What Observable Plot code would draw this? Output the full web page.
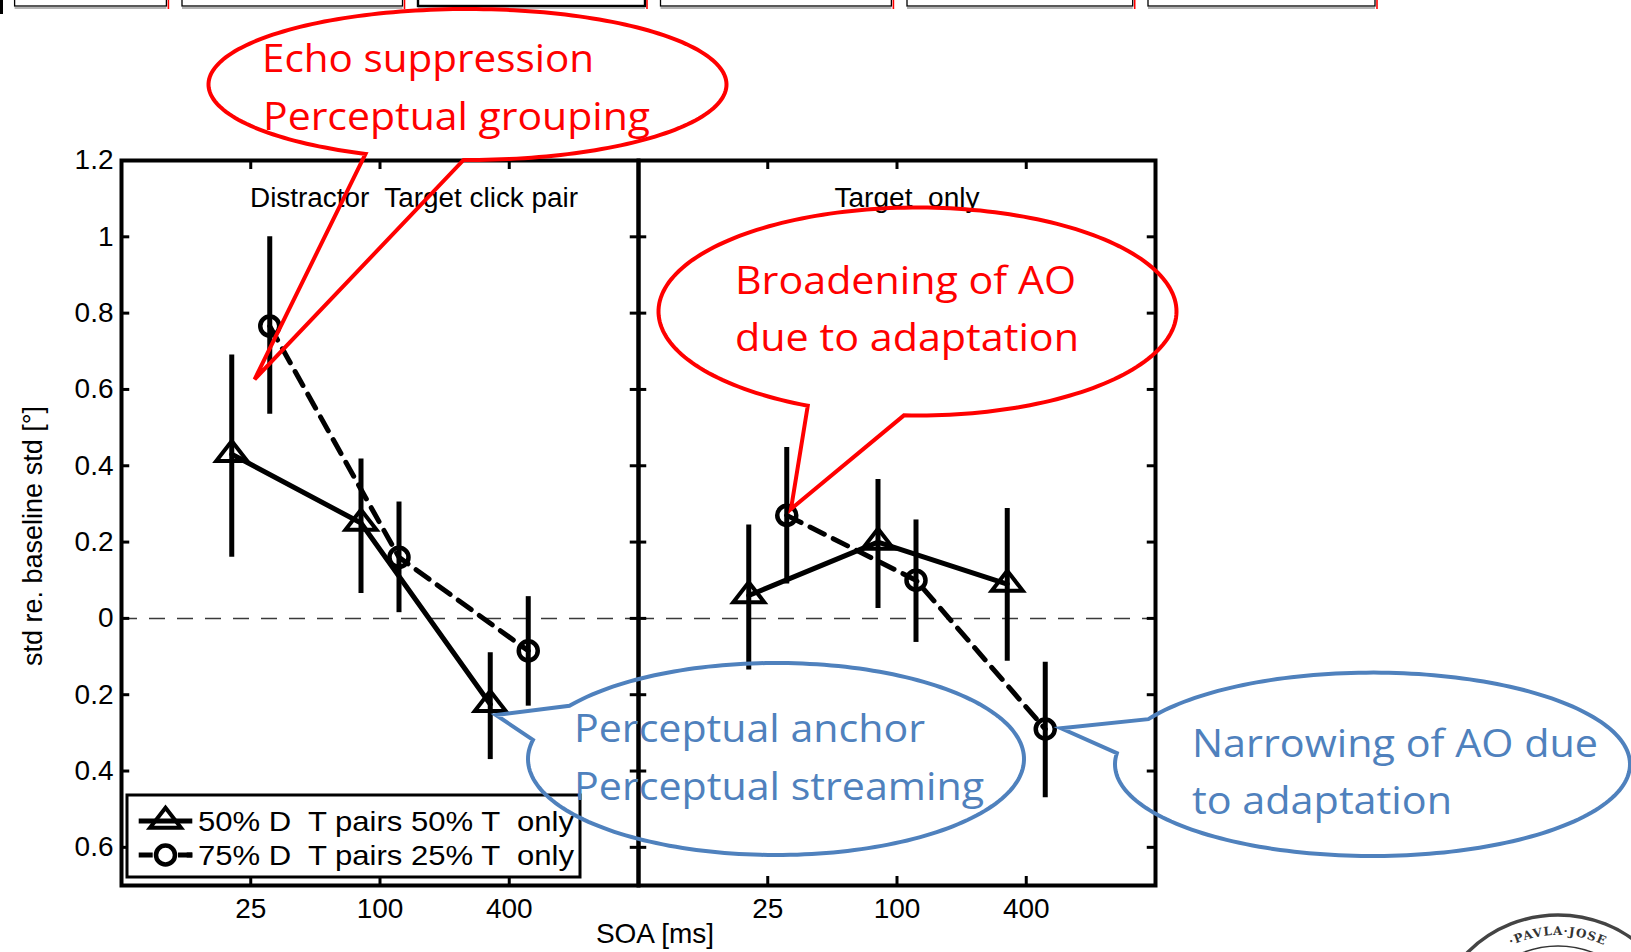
<!DOCTYPE html>
<html><head><meta charset="utf-8">
<script src="https://cdn.jsdelivr.net/npm/d3@7"></script>
<script src="https://cdn.jsdelivr.net/npm/@observablehq/plot@0.6"></script>
<style>
html,body{margin:0;padding:0;background:#fff;}
#wrap{position:relative;width:1631px;height:952px;overflow:hidden;background:#fff;}
#wrap > svg{position:absolute;left:0;top:0;}
text{white-space:pre;}
</style></head><body><div id="wrap"></div>
<script>
// ---------------- data ----------------
const soa = [25, 100, 400];
const xTickLabels = ["25", "100", "400"];
const panelNames = ["Distractor  Target click pair", "Target  only"];
const seriesNames = ["50% D  T pairs 50% T  only", "75% D  T pairs 25% T  only"];
// 50% / 50% condition (triangles, solid line)
const triPairMean = [0.43, 0.25, -0.225];
const triPairLo   = [0.16, 0.065, -0.37];
const triPairHi   = [0.69, 0.418, -0.09];
const triOnlyMean = [0.06, 0.20, 0.09];
const triOnlyLo   = [-0.135, 0.026, -0.112];
const triOnlyHi   = [0.245, 0.364, 0.288];
// 75% / 25% condition (circles, dashed line)
const circPairMean = [0.766, 0.16, -0.085];
const circPairLo   = [0.535, 0.015, -0.23];
const circPairHi   = [1.0, 0.305, 0.057];
const circOnlyMean = [0.27, 0.10, -0.29];
const circOnlyLo   = [0.09, -0.063, -0.47];
const circOnlyHi   = [0.448, 0.258, -0.115];
const yTickValues = [-0.6, -0.4, -0.2, 0, 0.2, 0.4, 0.6, 0.8, 1, 1.2];
const yTickLabels = ["0.6", "0.4", "0.2", "0", "0.2", "0.4", "0.6", "0.8", "1", "1.2"];
const yLabel = "std re. baseline std [°]";
const xLabel = "SOA [ms]";
const calloutTexts = [
  ["Echo suppression", "Perceptual grouping"],
  ["Broadening of AO", "due to adaptation"],
  ["Perceptual anchor", "Perceptual streaming"],
  ["Narrowing of AO due", "to adaptation"]
];
const sealText = "·PAVLA·JOSE";

// ---------------- build tables ----------------
function rows(panel, mean, lo, hi) {
  return soa.map((s, i) => ({panel, soa: s, mean: mean[i], lo: lo[i], hi: hi[i]}));
}
const triRows = [...rows(panelNames[0], triPairMean, triPairLo, triPairHi),
                 ...rows(panelNames[1], triOnlyMean, triOnlyLo, triOnlyHi)];
const circRows = [...rows(panelNames[0], circPairMean, circPairLo, circPairHi),
                  ...rows(panelNames[1], circOnlyMean, circOnlyLo, circOnlyHi)];

// ---------------- layout ----------------
const W = 1631, H = 952, mL = 120, mR = 475.5, mT = 160, mB = 67;
const bw = (W - mL - mR) / 2, ih = H - mT - mB;
const off = 19; // horizontal offset of the two conditions
const triSymbol = {draw(ctx, size) {
  const s = Math.sqrt(size / Math.PI);
  ctx.moveTo(0, -1.33 * s); ctx.lineTo(1.55 * s, 0.67 * s); ctx.lineTo(-1.55 * s, 0.67 * s); ctx.closePath();
}};
const tickStyle = {stroke: "black", strokeWidth: 3};

const chart = Plot.plot({
  width: W, height: H,
  marginLeft: mL, marginRight: mR, marginTop: mT, marginBottom: mB,
  style: {fontFamily: "'Liberation Sans', Arial, sans-serif", fontSize: "28px", background: "transparent", overflow: "visible", color: "black"},
  fx: {domain: panelNames, padding: 0, axis: null},
  x: {type: "log", domain: [6.25, 1600], axis: null},
  y: {domain: [-0.7, 1.2]},
  marks: [
    Plot.ruleY([0], {stroke: "#3a3a3a", strokeWidth: 1.5, strokeDasharray: "16,12"}),
    Plot.tickY(yTickValues, {y: d => d, ...tickStyle, insetRight: bw - 9}),
    Plot.tickY(yTickValues, {y: d => d, ...tickStyle, insetLeft: bw - 9}),
    Plot.tickX(soa, {x: d => d, ...tickStyle, insetTop: ih - 9}),
    Plot.tickX(soa, {x: d => d, ...tickStyle, insetBottom: ih - 9}),
    Plot.ruleX(triRows, {fx: "panel", x: "soa", y1: "lo", y2: "hi", dx: -off, stroke: "black", strokeWidth: 5}),
    Plot.ruleX(circRows, {fx: "panel", x: "soa", y1: "lo", y2: "hi", dx: off, stroke: "black", strokeWidth: 5}),
    Plot.line(triRows, {fx: "panel", x: "soa", y: "mean", dx: -off, stroke: "black", strokeWidth: 5}),
    Plot.line(circRows, {fx: "panel", x: "soa", y: "mean", dx: off, stroke: "black", strokeWidth: 5, strokeDasharray: "16,10"}),
    Plot.dot(triRows, {fx: "panel", x: "soa", y: "mean", dx: -off, symbol: triSymbol, r: 10, stroke: "black", strokeWidth: 4, fill: "none"}),
    Plot.dot(circRows, {fx: "panel", x: "soa", y: "mean", dx: off, symbol: "circle", r: 9.5, stroke: "black", strokeWidth: 4.5, fill: "none"}),
    Plot.frame({stroke: "black", strokeWidth: 4}),
    Plot.axisY(yTickValues, {anchor: "left", facetAnchor: "left", tickSize: 0, tickPadding: 8, label: null,
      tickFormat: d => yTickLabels[yTickValues.indexOf(d)], fontSize: 28}),
    Plot.text(soa, {x: d => d, text: d => xTickLabels[soa.indexOf(d)], frameAnchor: "bottom", lineAnchor: "top", dy: 13, fontSize: 28}),
    Plot.text([panelNames[0]], {fx: d => d, text: d => d, frameAnchor: "top", dx: 34, dy: 27, lineAnchor: "top", fontSize: 27}),
    Plot.text([panelNames[1]], {fx: d => d, text: d => d, frameAnchor: "top", dx: 10, dy: 27, lineAnchor: "top", fontSize: 27})
  ]
});
document.getElementById("wrap").appendChild(chart);
// preserve double spaces and match widths of the panel titles
const titleWidths = {[panelNames[0]]: 328, [panelNames[1]]: 145};
d3.select(chart).selectAll("text").each(function() {
  const t = this.textContent;
  if (titleWidths[t]) {
    this.setAttribute("xml:space", "preserve");
    this.setAttribute("textLength", titleWidths[t]);
    this.setAttribute("lengthAdjust", "spacingAndGlyphs");
  }
});

// ---------------- overlay: labels, legend, callouts, decorations ----------------
const ov = d3.select("#wrap").append("svg")
  .attr("width", W).attr("height", H)
  .style("pointer-events", "none")
  .attr("font-family", "'Liberation Sans', Arial, sans-serif");

// slide tab strip at the top
const tabs = [[14.6, 166.4], [182, 402.5], [418, 645], [660.5, 891.4], [907, 1132.7], [1148, 1375]];
ov.append("rect").attr("x", 0).attr("y", 0).attr("width", 3).attr("height", 14).attr("fill", "#000");
tabs.forEach(([a, b], i) => {
  ov.append("rect").attr("x", a).attr("y", -3).attr("width", b - a).attr("height", 9)
    .attr("fill", "none").attr("stroke", "#000").attr("stroke-width", i === 2 ? 2.4 : 1.3);
  ov.append("line").attr("x1", a).attr("x2", b).attr("y1", 8).attr("y2", 8).attr("stroke", "#9a9a9a").attr("stroke-width", 1.5);
  ov.append("line").attr("x1", b + 2).attr("x2", b + 2).attr("y1", 0).attr("y2", 9).attr("stroke", "#ff0000").attr("stroke-width", 1.6);
});

// axis titles
ov.append("text").attr("transform", "translate(42,536) rotate(-90)").attr("text-anchor", "middle")
  .attr("font-size", 27).text(yLabel);
ov.append("text").attr("x", 655).attr("y", 943).attr("text-anchor", "middle").attr("font-size", 28).text(xLabel);

// legend
const lg = ov.append("g");
lg.append("rect").attr("x", 127).attr("y", 795).attr("width", 453).attr("height", 82)
  .attr("fill", "#fff").attr("stroke", "#000").attr("stroke-width", 3);
const legRows = [821, 855];
seriesNames.forEach((name, i) => {
  const cy = legRows[i];
  lg.append("line").attr("x1", 138.7).attr("x2", 192.3).attr("y1", cy).attr("y2", cy)
    .attr("stroke", "#000").attr("stroke-width", 5)
    .attr("stroke-dasharray", i === 1 ? "14,34" : null);
  if (i === 1) lg.append("line").attr("x1", 178).attr("x2", 192.3).attr("y1", cy).attr("y2", cy).attr("stroke", "#000").attr("stroke-width", 5);
  const sym = d3.symbol().type(i === 0 ? triSymbol : d3.symbolCircle).size(Math.PI * (i === 0 ? 100 : 90));
  lg.append("path").attr("d", sym()).attr("transform", `translate(165.5,${cy})`)
    .attr("fill", "none").attr("stroke", "#000").attr("stroke-width", i === 0 ? 4 : 4.5);
  lg.append("text").attr("x", 198).attr("y", cy + 9.5).attr("font-size", 28)
    .attr("xml:space", "preserve").attr("textLength", 376).attr("lengthAdjust", "spacingAndGlyphs").text(name);
});

// speech-bubble callouts
const red = "#ff0000", blue = "#4f81bd";
const bubbles = [
  {c: [467.5, 84.5], rx: 259, ry: 75.5, a: [366.4, 153.3], b: [463.6, 159.3], tip: [254.6, 379.3], color: red,
   lines: [[262, 72, 332], [263, 130, 387]]},
  {c: [917.5, 311.5], rx: 259, ry: 104, a: [808.6, 405], b: [904, 415], tip: [791, 509], color: red,
   lines: [[735, 294, 341], [735, 351, 344]]},
  {c: [776, 759], rx: 248, ry: 96, a: [569, 705.7], b: [535, 740], tip: [496, 715], color: blue,
   lines: [[574, 742, 351], [574, 800, 410]]},
  {c: [1372.5, 764.3], rx: 257.5, ry: 91.7, a: [1149.3, 719.3], b: [1118.5, 753.3], tip: [1061, 728.3], color: blue,
   lines: [[1192, 757, 406], [1192, 814, 260]]}
];
bubbles.forEach((bb, k) => {
  const [cx, cy] = bb.c;
  const ang = p => Math.atan2((p[1] - cy) / bb.ry, (p[0] - cx) / bb.rx);
  let a0 = ang(bb.a), a1 = ang(bb.b);
  let d = a1 - a0;
  if (Math.abs(d) < Math.PI) d = d > 0 ? d - 2 * Math.PI : d + 2 * Math.PI;
  const pts = [];
  const n = 200;
  for (let i = 0; i <= n; i++) {
    const t = a0 + d * i / n;
    pts.push([cx + bb.rx * Math.cos(t), cy + bb.ry * Math.sin(t)]);
  }
  pts.push(bb.tip);
  ov.append("path").attr("d", "M" + pts.map(p => p.join(",")).join("L") + "Z")
    .attr("fill", "none").attr("stroke", bb.color).attr("stroke-width", 4).attr("stroke-linejoin", "miter");
  bb.lines.forEach(([x, y, w], j) => {
    ov.append("text").attr("x", x).attr("y", y).attr("fill", bb.color)
      .attr("font-family", "'Open Sans', 'Noto Sans', sans-serif").attr("font-size", 39)
      .attr("textLength", w).attr("lengthAdjust", "spacingAndGlyphs").text(calloutTexts[k][j]);
  });
});

// university seal (partly visible in the corner)
const sx = 1558, sy = 1043;
ov.append("circle").attr("cx", sx).attr("cy", sy).attr("r", 128).attr("fill", "#fff").attr("stroke", "#444").attr("stroke-width", 3.5);
ov.append("circle").attr("cx", sx).attr("cy", sy).attr("r", 97).attr("fill", "none").attr("stroke", "#333").attr("stroke-width", 1.5);
ov.append("path").attr("id", "sealArc").attr("fill", "none")
  .attr("d", `M${sx - 108},${sy} A108,108 0 0 1 ${sx + 108},${sy}`);
ov.append("text").attr("font-family", "'DejaVu Serif', serif").attr("font-size", 12).attr("font-weight", "bold")
  .attr("fill", "#333").attr("letter-spacing", 1)
  .append("textPath").attr("href", "#sealArc").attr("startOffset", "50%").attr("text-anchor", "middle").text(sealText);
</script>
</body></html>
